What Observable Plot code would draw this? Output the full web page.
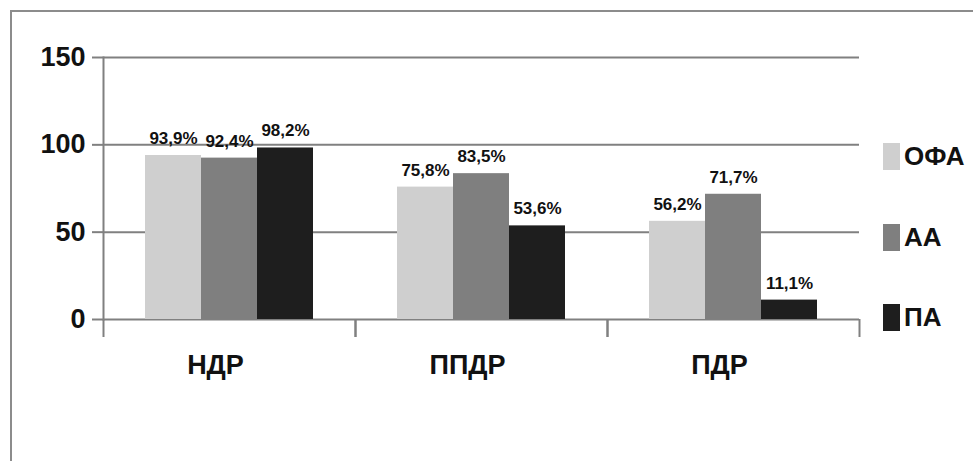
<!DOCTYPE html>
<html>
<head>
<meta charset="utf-8">
<script src="https://cdn.jsdelivr.net/npm/d3@7"></script>
<script src="https://cdn.jsdelivr.net/npm/@observablehq/plot@0.6"></script>
<style>
  html, body { margin: 0; padding: 0; background: #fff; }
  #wrap { position: relative; width: 973px; height: 461px; overflow: hidden;
          font-family: "Liberation Sans", Arial, sans-serif; }
  #border { position: absolute; left: 10px; top: 10px; right: -10px; bottom: -10px;
            border-left: 2px solid #8c8c8c; border-top: 2px solid #8c8c8c; pointer-events: none; }
  #legend { position: absolute; left: 883px; top: 0; }
  .item { position: absolute; left: 0; display: flex; align-items: center; white-space: nowrap; }
  .sw { width: 17px; height: 27px; margin-right: 4px; }
  .lab { font-size: 26px; font-weight: bold; color: #111; line-height: 27px; }
</style>
</head>
<body>
<div id="wrap">
  <div id="border"></div>
  <div id="chart"></div>
  <div id="legend"></div>
</div>
<script>
// Groups along the horizontal axis
const categories = ["НДР", "ППДР", "ПДР"];
// Series shown in each group
const series = ["ОФА", "АА", "ПА"];
// Percentages per group, one array per series
const ofaValues = [93.9, 75.8, 56.2];
const aaValues = [92.4, 83.5, 71.7];
const paValues = [98.2, 53.6, 11.1];
// Vertical axis ticks
const yTicks = [0, 50, 100, 150];

const seriesColors = ["#cfcfcf", "#7f7f7f", "#1e1e1e"];
const lineGray = "#808080";

const valuesBySeries = [ofaValues, aaValues, paValues];
const rows = [];
categories.forEach((cat, i) => {
  series.forEach((s, j) => {
    rows.push({cat, series: s, value: valuesBySeries[j][i]});
  });
});

const fmt = v => v.toFixed(1).replace(".", ",") + "%";

const W = 973, H = 461;
const mL = 103, mR = 114, mT = 57, mB = 142;
const groupWidth = (W - mL - mR) / categories.length;

const chart = Plot.plot({
  width: W,
  height: H,
  marginLeft: mL,
  marginRight: mR,
  marginTop: mT,
  marginBottom: mB,
  style: {fontFamily: "'Liberation Sans', Arial, sans-serif", background: "transparent", color: "#111"},
  fx: {domain: categories, padding: 0, label: null, axis: null},
  x: {domain: series, paddingInner: 0, paddingOuter: 0.75, axis: null},
  y: {domain: [0, 150], axis: null, label: null},
  color: {domain: series, range: seriesColors},
  marks: [
    Plot.gridY(yTicks, {stroke: lineGray, strokeOpacity: 1, strokeWidth: 2}),
    Plot.frame({anchor: "left", facetAnchor: "left", stroke: lineGray, strokeWidth: 2}),
    Plot.axisY({
      ticks: yTicks, tickSize: 11, tickPadding: 7, fontSize: 27, fontWeight: "bold",
      label: null, stroke: lineGray, strokeWidth: 2
    }),
    Plot.barY(rows, {fx: "cat", x: "series", y: "value", fill: "series"}),
    Plot.text(rows, {
      fx: "cat", x: "series", y: "value", text: d => fmt(d.value),
      dy: -17, fontSize: 17, fontWeight: "bold", fill: "#111"
    }),
    // group boundary ticks below the baseline
    Plot.axisFx({anchor: "bottom", tickSize: 18, dx: -groupWidth / 2, tickFormat: () => "",
      label: null, stroke: lineGray, strokeWidth: 2}),
    Plot.axisFx({anchor: "bottom", tickSize: 18, dx: groupWidth / 2, tickFormat: () => "",
      label: null, stroke: lineGray, strokeWidth: 2}),
    Plot.axisFx({anchor: "bottom", tickSize: 0, tickPadding: 35, dx: -14, fontSize: 27,
      fontWeight: "bold", label: null})
  ]
});
document.getElementById("chart").appendChild(chart);

// Legend on the right
const legend = d3.select("#legend");
const legendTops = [143, 224, 304];
series.forEach((s, j) => {
  const item = legend.append("div").attr("class", "item").style("top", legendTops[j] + "px");
  item.append("div").attr("class", "sw").style("background", seriesColors[j]);
  item.append("div").attr("class", "lab").text(s);
});
</script>
</body>
</html>
